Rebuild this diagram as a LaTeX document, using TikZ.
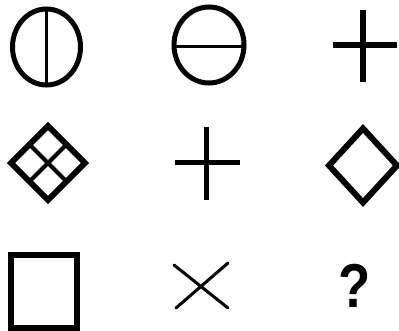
\documentclass[tikz,border=0pt]{standalone}
\usepackage{fontspec}
\setmainfont{Liberation Sans}
\usetikzlibrary{calc}
\begin{document}
\begin{tikzpicture}[x=1pt,y=-1pt,
  sym/.style={draw=black,line cap=butt,line join=miter}]
\useasboundingbox (0,0) rectangle (399,331);
\fill[white] (0,0) rectangle (399,331);
% row 1
\coordinate (e1) at (46.5,47);
\draw[sym,line width=5pt] (e1) ellipse [x radius=34pt, y radius=38pt];
\coordinate (e1t) at (46,9); \coordinate (e1b) at (46,85);
\draw[sym,line width=3pt] (e1t) -- (e1b);
\coordinate (e2) at (209,45);
\draw[sym,line width=5pt] (e2) ellipse [x radius=35pt, y radius=38pt];
\coordinate (e2l) at (174,47); \coordinate (e2r) at (244,47);
\draw[sym,line width=3pt] (e2l) -- (e2r);
\coordinate (p1t) at (363,10); \coordinate (p1b) at (363,82);
\coordinate (p1l) at (333,45); \coordinate (p1r) at (397,45);
\draw[sym,line width=6pt] (p1t) -- (p1b) (p1l) -- (p1r);
% row 2
\coordinate (d1) at (48,163);
\draw[sym,line width=6pt] ($(d1)+(0,-37)$) -- ($(d1)+(37,0)$) -- ($(d1)+(0,37)$) -- ($(d1)+(-37,0)$) -- cycle;
\draw[sym,line width=4pt] ($(d1)+(-18.5,-18.5)$) -- ($(d1)+(18.5,18.5)$)
  ($(d1)+(18.5,-18.5)$) -- ($(d1)+(-18.5,18.5)$);
\coordinate (p2t) at (206,127); \coordinate (p2b) at (206,200);
\coordinate (p2l) at (175,163); \coordinate (p2r) at (240,163);
\draw[sym,line width=5pt] (p2t) -- (p2b) (p2l) -- (p2r);
\coordinate (d2) at (363,165.5);
\draw[sym,line width=6pt] ($(d2)+(0,-37)$) -- ($(d2)+(34,0)$) -- ($(d2)+(0,37)$) -- ($(d2)+(-34,0)$) -- cycle;
% row 3
\coordinate (s1) at (11,255); \coordinate (s2) at (77,328);
\draw[sym,line width=6pt] (s1) rectangle (s2);
\coordinate (x1) at (174,265); \coordinate (x2) at (228,308);
\coordinate (x3) at (228,263); \coordinate (x4) at (176,308);
\draw[sym,line width=3pt,line cap=round] (x1) -- (x2) (x3) -- (x4);
\node[inner sep=0pt,xscale=0.85] (q) at (354.5,285.5) {\fontsize{62}{62}\selectfont\bfseries ?};
\end{tikzpicture}
\end{document}
